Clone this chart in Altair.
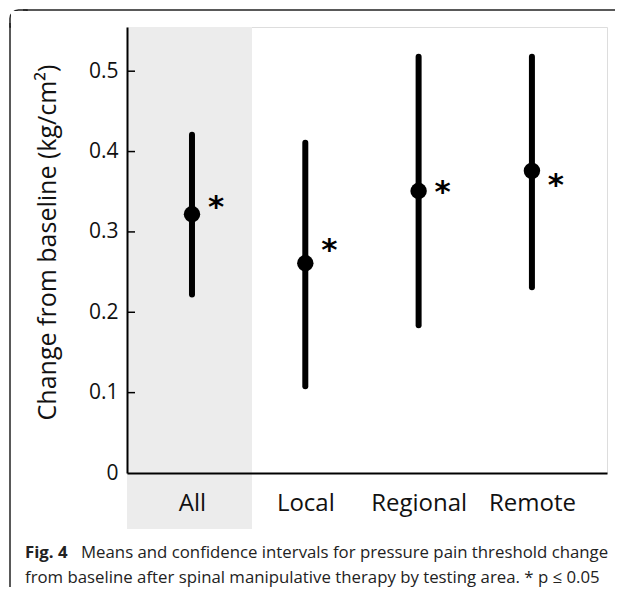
import altair as alt
import pandas as pd

categories = ["All", "Local", "Regional", "Remote"]
means = [0.322, 0.261, 0.351, 0.376]
ci_low = [0.222, 0.108, 0.184, 0.231]
ci_high = [0.421, 0.411, 0.518, 0.518]
star_y = [0.341, 0.287, 0.360, 0.368]
stars = ["*", "*", "*", "*"]
y_ticks = [0.1, 0.2, 0.3, 0.4, 0.5]
y_axis_values = [0, 0.1, 0.2, 0.3, 0.4, 0.5]
caption_bold = "Fig. 4"
caption_line1 = "Means and confidence intervals for pressure pain threshold change"
caption_line2 = "from baseline after spinal manipulative therapy by testing area. * p \u2264 0.05"

df = pd.DataFrame({
    "area": categories,
    "mean": means,
    "lo": ci_low,
    "hi": ci_high,
    "star_y": star_y,
    "star": stars,
})
ticks_df = pd.DataFrame({"t": y_ticks})

W, H = 480, 446
FONT = "Open Sans"

x_scale = alt.Scale(type="point", domain=categories, padding=0.618, align=0.464)
y_scale = alt.Scale(domain=[0, 0.555], nice=False, zero=False)

base = alt.Chart(df)
one = pd.DataFrame({"k": [0]})

# decorative frame: rounded top-left corner, top edge and left edge
corner = alt.Chart(one).mark_rect(
    fill=None, stroke="#222222", strokeWidth=1.5, cornerRadiusTopLeft=11
).encode(
    x=alt.value(-117), x2=alt.value(-100),
    y=alt.value(-17), y2=alt.value(0),
)
corner_cover = alt.Chart(one).mark_rect(fill="white").encode(
    x=alt.value(-116), x2=alt.value(-98),
    y=alt.value(-16), y2=alt.value(2),
)
frame_top = alt.Chart(one).mark_rule(stroke="#222222", strokeWidth=1.5).encode(
    x=alt.value(-104), x2=alt.value(488), y=alt.value(-17),
)
frame_left = alt.Chart(one).mark_rule(stroke="#222222", strokeWidth=1.5).encode(
    x=alt.value(-117), y=alt.value(-4), y2=alt.value(600),
)

shade = alt.Chart(one).mark_rect(color="#ececec").encode(
    x=alt.value(0), x2=alt.value(125),
    y=alt.value(0), y2=alt.value(502),
)

bars = base.mark_rule(color="black", strokeWidth=6, strokeCap="round").encode(
    x=alt.X("area:N", scale=x_scale,
            axis=alt.Axis(title=None, ticks=False, labelAngle=0, labelFontSize=24,
                          labelFont=FONT, labelColor="#111111", labelPadding=18,
                          domainColor="black", domainWidth=2, zindex=1)),
    y=alt.Y("lo:Q", scale=y_scale,
            axis=alt.Axis(title="Change from baseline (kg/cm\u00b2)", values=y_axis_values,
                          labelExpr="datum.value == 0 ? '0' : format(datum.value, '.1f')",
                          ticks=False, grid=False, labelFontSize=21, labelFont=FONT,
                          labelColor="#111111", labelPadding=9,
                          titleFont=FONT, titleFontSize=25, titleFontWeight="normal",
                          titleColor="#111111", titlePadding=28, titleY=215,
                          domainColor="black", domainWidth=2, zindex=1)),
    y2="hi:Q",
)

points = base.mark_circle(color="black", opacity=1, size=270).encode(
    x=alt.X("area:N", scale=x_scale),
    y=alt.Y("mean:Q", scale=y_scale),
)

star_marks = base.mark_text(fontSize=31, fontWeight="bold", font="DejaVu Sans",
                            dx=24, baseline="middle", dy=9, color="black").encode(
    x=alt.X("area:N", scale=x_scale),
    y=alt.Y("star_y:Q", scale=y_scale),
    text="star:N",
)

tick_marks = alt.Chart(ticks_df).mark_rule(color="black", strokeWidth=1.5).encode(
    x=alt.value(0), x2=alt.value(8),
    y=alt.Y("t:Q", scale=y_scale),
)

cap_bold = alt.Chart(one).mark_text(
    text=caption_bold, font=FONT, fontSize=16.8, fontWeight="bold",
    align="left", baseline="alphabetic", color="#222222"
).encode(x=alt.value(-102), y=alt.value(531))
cap_l1 = alt.Chart(one).mark_text(
    text=caption_line1, font=FONT, fontSize=16.8,
    align="left", baseline="alphabetic", color="#222222"
).encode(x=alt.value(-46), y=alt.value(531))
cap_l2 = alt.Chart(one).mark_text(
    text=caption_line2, font=FONT, fontSize=16.8,
    align="left", baseline="alphabetic", color="#222222"
).encode(x=alt.value(-102), y=alt.value(556))

chart = alt.layer(
    corner, corner_cover, frame_top, frame_left, shade, tick_marks, bars, points,
    star_marks, cap_bold, cap_l1, cap_l2
).properties(
    width=W, height=H,
    autosize=alt.AutoSizeParams(type="none"),
    padding={"left": 119, "top": 19, "right": 8, "bottom": 114},
).configure_view(stroke=None).configure(background="white")

chart.save("out.html", embed_options={"renderer": "svg", "actions": False})
